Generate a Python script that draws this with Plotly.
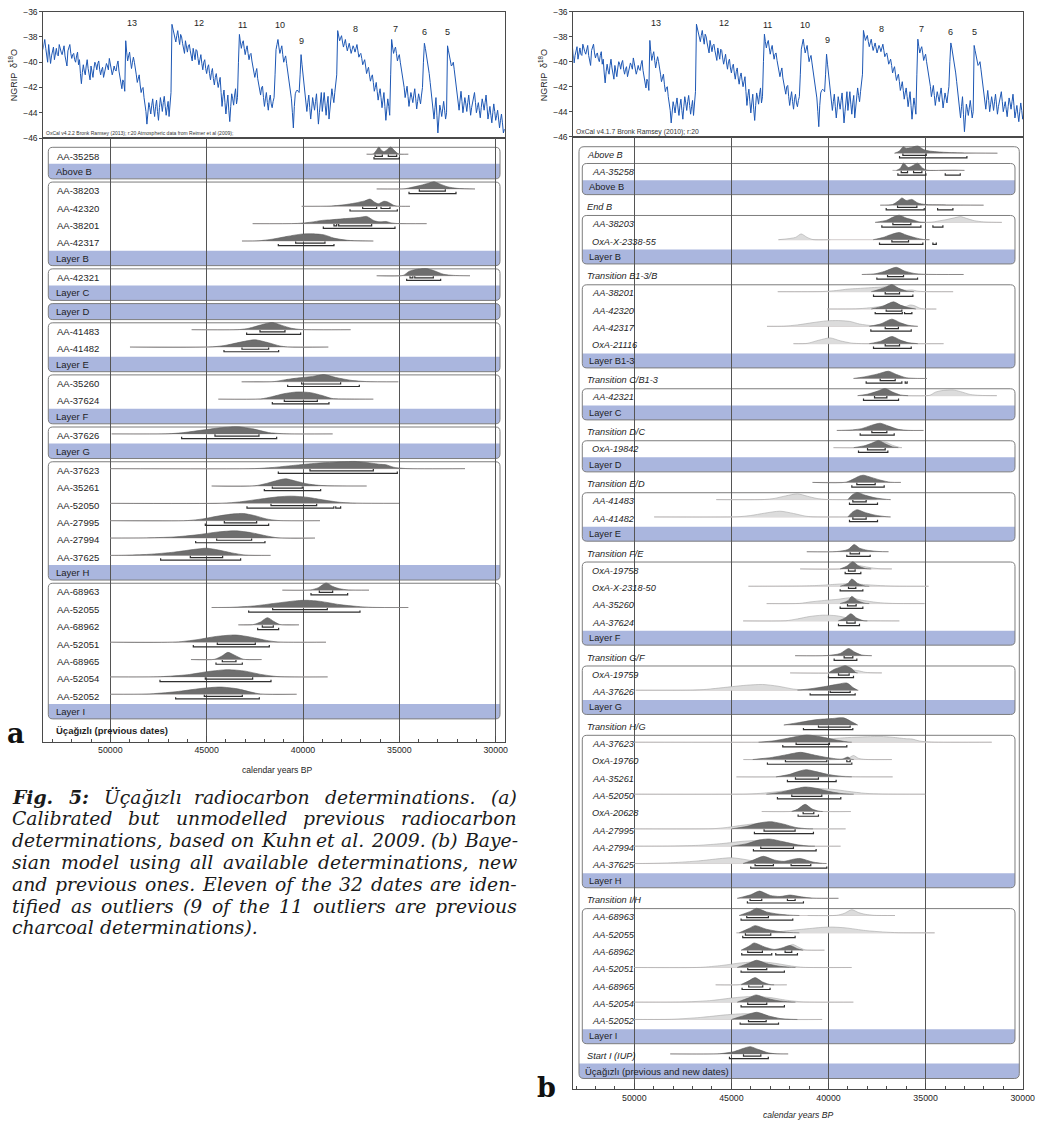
import plotly.graph_objects as go

W, H = 1040, 1121

# ---------------------------------------------------------------- data
# NGRIP delta-18O (per mil) at 100-year steps from 53.5 to 29.6 ka BP ...
ngrip_years = list(range(53500, 29500, -100))
ngrip_d18o = [
    -39.0, -38.2, -39.6, -38.6, -40.1, -39.2, -39.8, -38.9, -39.5, -39.0,
    -39.4, -38.7, -39.9, -39.1, -38.6, -39.7, -39.3, -40.0, -39.2, -39.8,
    -41.7, -40.2, -41.0, -39.8, -40.9, -40.3, -41.2, -40.0, -40.6, -39.9,
    -41.0, -40.4, -40.8, -40.1, -40.6, -40.2, -41.0, -40.3, -40.7, -39.9,
    -41.3, -42.1, -41.6, -38.3, -39.9, -39.2, -40.5, -39.6, -40.4, -41.6,
    -41.0, -42.4, -42.0, -43.3, -44.9, -43.2, -44.1, -42.9, -44.3, -43.0,
    -44.6, -42.8, -43.9, -42.7, -44.2, -43.1, -43.6, -37.0, -37.6, -38.4,
    -37.5, -38.6, -38.0, -38.9, -38.3, -39.2, -38.6, -39.5, -38.9, -39.8,
    -39.1, -40.2, -39.4, -40.6, -39.8, -40.9, -40.2, -41.4, -40.5, -41.8,
    -40.9, -42.0, -41.2, -43.5, -42.2, -44.1, -42.6, -44.7, -42.5, -43.4,
    -42.1, -42.8, -37.8, -38.9, -38.3, -39.4, -38.7, -39.8, -39.3, -40.3,
    -41.2, -40.5, -41.8, -42.6, -41.9, -43.5, -42.4, -43.8, -42.6, -43.6,
    -42.8, -39.0, -38.2, -39.3, -38.7, -40.0, -39.5, -40.6, -41.8, -42.9,
    -45.2, -42.5, -42.2, -42.4, -39.4, -41.0, -42.3, -43.9, -42.6, -44.5,
    -42.8, -43.8, -42.5, -44.9, -43.0, -43.9, -42.4, -44.2, -42.7, -43.6,
    -42.1, -43.2, -41.8, -37.5, -38.3, -37.9, -38.8, -38.2, -39.1, -38.5,
    -39.3, -38.7, -39.2, -38.6, -39.6, -39.3, -40.2, -39.8, -40.9, -40.4,
    -41.5, -41.0, -42.3, -41.6, -43.0, -42.1, -43.6, -42.4, -44.6, -42.9,
    -44.2, -38.2, -39.3, -38.8, -39.9, -39.4, -40.5, -41.2, -42.8, -41.9,
    -43.5, -42.4, -43.2, -42.1, -43.7, -42.5, -43.3, -42.0, -38.5, -39.4,
    -40.1, -41.6, -43.0, -44.5, -42.8, -45.6, -43.4, -44.3, -43.1, -44.5,
    -38.7, -39.6, -40.3, -40.0, -41.2, -42.5, -43.8, -42.3, -44.0, -42.8,
    -43.9, -42.6, -44.2, -43.1, -42.4, -44.0, -43.2, -44.4, -42.9, -43.8,
    -42.6, -44.5, -43.5, -44.8, -43.3, -44.6, -43.8, -45.2, -44.1, -45.6,
]
# ... and the samples 50 years after each of those
ngrip_d18o_mid = [
    -38.5, -38.9, -40.0, -39.3, -39.5, -38.8, -39.3, -39.4, -38.6, -39.2,
    -39.0, -39.5, -40.3, -38.8, -39.3, -39.4, -39.8, -39.5, -40.2, -40.9,
    -40.8, -40.7, -40.3, -40.5, -41.4, -40.8, -40.5, -40.2, -40.1, -40.6,
    -40.6, -41.2, -40.4, -40.3, -39.7, -40.6, -40.7, -40.6, -40.2, -40.7,
    -41.8, -41.4, -42.3, -39.2, -39.5, -39.9, -40.0, -40.0, -41.0, -41.3,
    -41.8, -42.1, -42.8, -43.9, -44.0, -43.6, -43.4, -43.7, -43.5, -43.9,
    -43.6, -43.3, -43.2, -43.5, -43.6, -44.3, -42.4, -37.4, -38.0, -37.9,
    -38.1, -37.8, -38.5, -39.3, -38.8, -38.7, -39.1, -39.9, -39.4, -39.0,
    -39.7, -39.8, -40.1, -40.0, -40.5, -40.4, -40.9, -40.8, -41.3, -41.2,
    -41.5, -41.6, -42.4, -42.7, -43.2, -43.3, -43.8, -43.5, -42.9, -42.6,
    -43.3, -40.0, -38.4, -38.5, -38.9, -39.0, -39.3, -39.4, -39.9, -40.8,
    -40.8, -41.3, -42.2, -42.0, -42.8, -42.9, -43.2, -43.0, -43.3, -43.1,
    -41.0, -38.6, -38.8, -39.0, -39.4, -39.7, -40.1, -41.2, -42.4, -44.0,
    -43.5, -42.3, -42.3, -41.0, -40.2, -41.6, -43.1, -43.2, -43.6, -43.7,
    -43.3, -43.1, -43.7, -44.0, -42.4, -43.1, -43.4, -43.3, -44.5, -42.8,
    -42.7, -42.4, -41.0, -37.9, -38.1, -38.4, -38.5, -38.7, -38.8, -38.9,
    -39.0, -38.9, -38.9, -39.1, -39.4, -39.7, -40.0, -40.3, -40.6, -41.0,
    -41.2, -41.6, -42.0, -42.3, -42.5, -42.8, -43.0, -43.5, -43.7, -43.5,
    -41.0, -38.8, -39.0, -39.3, -39.6, -40.0, -40.8, -42.0, -42.3, -42.7,
    -42.9, -42.8, -42.6, -42.9, -43.1, -42.9, -42.6, -40.0, -38.9, -39.8,
    -40.9, -42.3, -43.7, -43.6, -44.2, -44.5, -43.8, -43.7, -43.8, -44.0,
    -39.1, -39.9, -40.2, -40.6, -41.8, -43.1, -43.0, -43.1, -43.4, -43.3,
    -43.2, -43.4, -43.6, -42.8, -43.2, -43.6, -43.8, -43.6, -43.3, -43.2,
    -43.5, -44.0, -44.2, -44.0, -43.9, -44.2, -44.5, -44.6, -44.8, -45.3,
]

# Dansgaard-Oeschger interstadial numbers
do_names = ["13", "12", "11", "10", "9", "8", "7", "6", "5"]
do_years = [48870, 45400, 43140, 41200, 40070, 37260, 35200, 33710, 32480]
do_level = [-36.9, -36.9, -37.05, -37.05, -38.3, -37.4, -37.4, -37.6, -37.6]

x_ticks = [50000, 45000, 40000, 35000, 30000]

# Calibrated, unmodelled dates: [year BP, relative probability]
UNMOD = {
    "AA-35258": [[36700, 0], [36350, 0.03], [36200, 0.5], [36060, 1.0], [35950, 0.6], [35800, 0.35],
                 [35650, 0.6], [35450, 1.0], [35250, 0.5], [35050, 0.05], [34534, 0]],
    "AA-38203": [[36177, 0], [34700, 0.03], [34400, 0.2], [33900, 0.5], [33500, 0.8], [33200, 1.0],
                 [32900, 0.7], [32500, 0.3], [32000, 0.08], [31500, 0.02], [31074, 0]],
    "AA-42320": [[40070, 0], [38600, 0.03], [37900, 0.2], [37300, 0.45], [36800, 0.75], [36520, 1.0],
                 [36300, 0.6], [36090, 0.35], [35800, 0.7], [35600, 0.6], [35300, 0.15], [35100, 0.02], [34447, 0]],
    "AA-38201": [[42613, 0], [40300, 0.03], [39600, 0.2], [39000, 0.45], [38500, 0.55], [37800, 0.7],
                 [37100, 0.85], [36700, 1.0], [36300, 0.4], [36000, 0.25], [35700, 0.3], [35400, 0.1],
                 [35100, 0.02], [33582, 0]],
    "AA-42317": [[43167, 0], [42300, 0.03], [41600, 0.25], [40800, 0.65], [40100, 0.95], [39500, 1.0],
                 [38900, 0.85], [38400, 0.4], [37700, 0.1], [37000, 0.02], [36350, 0]],
    "AA-42321": [[36177, 0], [34800, 0.05], [34500, 0.6], [34200, 0.85], [33600, 1.0], [33200, 0.7],
                 [32700, 0.2], [32200, 0.05], [31333, 0]],
    "AA-41483": [[45779, 0], [43300, 0.02], [42800, 0.2], [42200, 0.65], [41600, 1.0], [41100, 0.6],
                 [40600, 0.2], [40100, 0.03], [37527, 0]],
    "AA-41482": [[48979, 0], [44700, 0.03], [44000, 0.25], [43300, 0.65], [42500, 1.0], [41800, 0.6],
                 [41200, 0.15], [40800, 0.02], [38686, 0]],
    "AA-35260": [[43184, 0], [41500, 0.03], [40900, 0.3], [40200, 0.55], [39500, 0.75], [38900, 1.0],
                 [38300, 0.6], [37500, 0.2], [36700, 0.03], [35053, 0]],
    "AA-37624": [[44395, 0], [42200, 0.03], [41600, 0.35], [41000, 0.75], [40300, 1.0], [39600, 0.9],
                 [39000, 0.5], [38500, 0.1], [37500, 0.02], [36350, 0]],
    "AA-37626": [[49931, 0], [47000, 0.02], [46300, 0.15], [45300, 0.5], [44300, 0.85], [43400, 1.0],
                 [42600, 0.7], [41800, 0.2], [41000, 0.02], [38461, 0]],
    "AA-37623": [[50000, 0], [42500, 0.01], [41600, 0.15], [40500, 0.45], [39300, 0.75], [38000, 0.95],
                 [37300, 1.0], [36700, 0.85], [36000, 0.6], [35700, 0.55], [35300, 0.2], [34700, 0.02], [31593, 0]],
    "AA-35261": [[44741, 0], [42500, 0.03], [41900, 0.35], [41300, 0.8], [40900, 1.0], [40400, 0.7],
                 [39800, 0.3], [39200, 0.1], [38600, 0.02], [36696, 0]],
    "AA-52050": [[50000, 0], [44200, 0.02], [43300, 0.2], [42200, 0.6], [41300, 0.9], [40600, 1.0],
                 [39800, 0.85], [39000, 0.5], [38100, 0.15], [37200, 0.03], [35018, 0]],
    "AA-27995": [[50000, 0], [46000, 0.02], [45200, 0.25], [44400, 0.65], [43600, 0.95], [43100, 1.0],
                 [42500, 0.7], [41900, 0.25], [41300, 0.03], [39118, 0]],
    "AA-27994": [[50000, 0], [48300, 0.02], [46700, 0.15], [45500, 0.45], [44400, 0.85], [43500, 1.0],
                 [42700, 0.75], [41900, 0.3], [41300, 0.03], [39378, 0]],
    "AA-37625": [[50000, 0], [49300, 0.02], [48000, 0.15], [46700, 0.45], [45600, 0.85], [45000, 1.0],
                 [44400, 0.75], [43700, 0.35], [43000, 0.05], [41679, 0]],
    "AA-68963": [[41073, 0], [39600, 0.03], [39200, 0.35], [38800, 1.0], [38450, 0.5], [38100, 0.2],
                 [37650, 0.03], [36575, 0]],
    "AA-52055": [[44741, 0], [43800, 0.02], [42600, 0.2], [41400, 0.6], [40300, 0.95], [39800, 1.0],
                 [39100, 0.85], [38100, 0.4], [37200, 0.15], [36400, 0.02], [34534, 0]],
    "AA-68962": [[43357, 0], [42600, 0.03], [42200, 0.4], [41850, 1.0], [41500, 0.45], [41200, 0.05], [40208, 0]],
    "AA-52051": [[50000, 0], [46600, 0.02], [45500, 0.35], [44500, 0.8], [43500, 1.0], [42700, 0.7],
                 [41900, 0.25], [41300, 0.03], [38807, 0]],
    "AA-68965": [[45813, 0], [44600, 0.03], [44200, 0.5], [43900, 1.0], [43550, 0.6], [43100, 0.05], [42146, 0]],
    "AA-52054": [[50000, 0], [47400, 0.03], [46000, 0.3], [44900, 0.75], [43900, 1.0], [43000, 0.8],
                 [42200, 0.35], [41300, 0.04], [38720, 0]],
    "AA-52052": [[50000, 0], [48100, 0.03], [46600, 0.35], [45300, 0.8], [44300, 1.0], [43400, 0.75],
                 [42700, 0.3], [42200, 0.03], [40329, 0]],
}
UNMOD_R68 = {
    "AA-35258": [[36264, 35883], [35572, 35139]], "AA-38203": [[33963, 32614]],
    "AA-42320": [[36904, 36177], [35952, 35485]], "AA-38201": [[38392, 38250], [38150, 36437]],
    "AA-42317": [[40381, 38859]], "AA-42321": [[34447, 34300], [34200, 33236]],
    "AA-41483": [[42232, 40935]], "AA-41482": [[43167, 41782]], "AA-35260": [[40070, 38046]],
    "AA-37624": [[40969, 39256]], "AA-37626": [[44568, 42284]], "AA-37623": [[39637, 36350]],
    "AA-35261": [[41592, 40035]], "AA-52050": [[41661, 39291]], "AA-27995": [[44083, 42405]],
    "AA-27994": [[44481, 42665]], "AA-37625": [[45848, 44170]], "AA-68963": [[39153, 38461]],
    "AA-52055": [[41575, 38738]], "AA-68962": [[42111, 41540]], "AA-52051": [[44447, 42475]],
    "AA-68965": [[44187, 43478]], "AA-52054": [[45070, 42613]], "AA-52052": [[45121, 43149]],
}
UNMOD_R95 = {
    "AA-35258": [[36316, 35000]], "AA-38203": [[34499, 32060]], "AA-42320": [[37561, 35105]],
    "AA-38201": [[38945, 35226]], "AA-42317": [[41281, 38392]], "AA-42321": [[34620, 32856]],
    "AA-41483": [[42924, 40122]], "AA-41482": [[44101, 41264]], "AA-35260": [[40796, 37077]],
    "AA-37624": [[41592, 38651]], "AA-37626": [[46298, 41367]], "AA-37623": [[41281, 35105]],
    "AA-35261": [[42007, 39084]], "AA-52050": [[42907, 38400], [38300, 38046]],
    "AA-27995": [[45070, 41782]], "AA-27994": [[45571, 41973]], "AA-37625": [[47388, 43236]],
    "AA-68963": [[39585, 37682]], "AA-52055": [[42820, 37042]], "AA-68962": [[42353, 41264]],
    "AA-52051": [[45692, 41748]], "AA-68965": [[44516, 43149]], "AA-52054": [[47422, 41661]],
    "AA-52052": [[46609, 42267]],
}

# Unmodelled likelihoods of the new determinations
PRIOR_NEW = {
    "OxA-X-2338-55": [[42578, 0], [41700, 0.4], [41410, 1.0], [41100, 0.4], [40800, 0.02], [39915, 0]],
    "OxA-21116": [[41805, 0], [41100, 0.05], [40500, 0.6], [39915, 1.0], [39400, 0.5], [38800, 0.1],
                  [38300, 0.01], [34074, 0]],
    "OxA-19842": [[39743, 0], [38400, 0.02], [37700, 0.6], [37100, 1.0], [36700, 0.4], [36300, 0.02], [36222, 0]],
    "OxA-19758": [[41462, 0], [39300, 0.03], [38700, 0.7], [38300, 0.5], [37800, 0.2], [37300, 0.02], [36737, 0]],
    "OxA-X-2318-50": [[44124, 0], [41500, 0.05], [40500, 0.15], [39600, 0.35], [39000, 0.45], [38400, 0.35],
                      [37500, 0.15], [36600, 0.02], [34847, 0]],
    "OxA-19759": [[41977, 0], [39300, 0.03], [38900, 0.5], [38500, 0.4], [38100, 0.1], [37600, 0.01], [37253, 0]],
    "OxA-19760": [[44382, 0], [39500, 0.01], [39000, 0.2], [38713, 0.7], [38450, 0.2], [38100, 0.02], [36737, 0]],
    "OxA-20628": [[43437, 0], [41900, 0.03], [41600, 0.3], [41250, 0.95], [40850, 0.4], [40400, 0.03], [38850, 0]],
}

# Posterior (modelled) distributions
MOD = {
    "Above B": [[36600, 0], [36350, 0.3], [36150, 0.9], [36000, 0.7], [35800, 0.75], [35400, 1.0],
                [35100, 0.5], [34800, 0.3], [34000, 0.12], [33000, 0.04], [31300, 0]],
    "AA-35258": [[36500, 0], [36300, 0.3], [36136, 1.0], [35900, 0.4], [35700, 0.6], [35414, 1.0],
                 [35150, 0.3], [34900, 0.02], [34000, 0.02], [33500, 0.03], [33000, 0]],
    "End B": [[37338, 0], [36700, 0.1], [36400, 0.6], [36222, 1.0], [36000, 0.65], [35706, 0.8],
              [35400, 0.3], [35000, 0.1], [34300, 0.06], [33800, 0.03], [32013, 0]],
    "AA-38203": [[37600, 0], [37000, 0.3], [36700, 0.7], [36359, 1.0], [36000, 0.6], [35600, 0.3],
                 [35300, 0.05], [35000, 0]],
    "OxA-X-2338-55": [[37700, 0], [37200, 0.3], [36800, 0.7], [36359, 1.0], [36000, 0.65], [35500, 0.25],
                      [35100, 0.03], [34800, 0]],
    "Transition B1-3/B": [[38283, 0], [37600, 0.1], [37100, 0.45], [36514, 1.0], [36100, 0.5], [35600, 0.15],
                          [35100, 0.03], [33043, 0]],
    "AA-38201": [[37800, 0], [37400, 0.3], [37000, 0.7], [36737, 1.0], [36400, 0.5], [36000, 0.1], [35600, 0]],
    "AA-42320": [[37800, 0], [37200, 0.4], [36651, 1.0], [36300, 0.55], [35900, 0.2], [35500, 0]],
    "AA-42317": [[37900, 0], [37300, 0.35], [36737, 1.0], [36300, 0.5], [35900, 0.15], [35400, 0]],
    "OxA-21116": [[37900, 0], [37300, 0.35], [36737, 1.0], [36300, 0.5], [35900, 0.15], [35400, 0]],
    "Transition C/B1-3": [[38713, 0], [38200, 0.2], [37500, 0.6], [36909, 1.0], [36500, 0.55], [36000, 0.1],
                          [35500, 0.01], [34933, 0]],
    "AA-42321": [[38500, 0], [38000, 0.2], [37500, 0.6], [37080, 1.0], [36700, 0.5], [36300, 0.1], [35900, 0]],
    "Transition D/C": [[39572, 0], [38900, 0.05], [38300, 0.25], [37800, 0.7], [37338, 1.0], [36900, 0.6],
                       [36400, 0.15], [35900, 0.01], [35105, 0]],
    "OxA-19842": [[38700, 0], [38100, 0.3], [37700, 0.7], [37424, 1.0], [37050, 0.5], [36700, 0.1], [36400, 0]],
    "Transition E/D": [[40826, 0], [39100, 0.03], [38700, 0.5], [38400, 0.9], [38197, 1.0], [37800, 0.7],
                       [37300, 0.3], [36800, 0.02], [36273, 0]],
    "AA-41483": [[39000, 0], [38800, 0.6], [38541, 1.0], [38100, 0.6], [37600, 0.25], [37000, 0.03], [36800, 0]],
    "AA-41482": [[39000, 0], [38800, 0.6], [38541, 1.0], [38100, 0.6], [37600, 0.25], [37000, 0.03], [36800, 0]],
    "Transition F/E": [[41118, 0], [39600, 0.02], [39000, 0.3], [38679, 1.0], [38400, 0.5], [38000, 0.2],
                       [37400, 0.03], [36909, 0]],
    "OxA-19758": [[39400, 0], [39050, 0.4], [38747, 1.0], [38450, 0.4], [38100, 0.05], [37800, 0]],
    "OxA-X-2318-50": [[39400, 0], [39000, 0.4], [38799, 1.0], [38500, 0.4], [38100, 0.03], [37900, 0]],
    "AA-35260": [[39400, 0], [39000, 0.4], [38799, 1.0], [38500, 0.4], [38100, 0.03], [37900, 0]],
    "AA-37624": [[39500, 0], [39150, 0.4], [38850, 1.0], [38550, 0.4], [38200, 0.03], [38000, 0]],
    "Transition G/F": [[41719, 0], [40100, 0.02], [39400, 0.3], [38970, 1.0], [38650, 0.5], [38300, 0.1], [37768, 0]],
    "OxA-19759": [[40000, 0], [39700, 0.5], [39400, 0.8], [39142, 1.0], [38800, 0.6], [38600, 0.05], [38500, 0]],
    "AA-37626": [[41600, 0], [40800, 0.25], [40100, 0.55], [39500, 0.85], [39056, 1.0], [38700, 0.3], [38500, 0]],
    "Transition H/G": [[42300, 0], [41500, 0.35], [40600, 0.75], [39800, 0.9], [39228, 1.0], [38700, 0.3], [38500, 0]],
    "AA-37623": [[43600, 0], [42800, 0.2], [41900, 0.65], [41118, 1.0], [40400, 0.75], [39600, 0.3],
                 [39000, 0.03], [38800, 0]],
    "OxA-19760": [[43900, 0], [42900, 0.3], [42100, 0.7], [41427, 1.0], [40700, 0.6], [40000, 0.25],
                  [39300, 0.05], [39000, 0.35], [38850, 0.05], [38700, 0]],
    "AA-35261": [[42700, 0], [42000, 0.35], [41500, 0.8], [41153, 1.0], [40600, 0.7], [40000, 0.3],
                 [39300, 0.05], [38800, 0]],
    "AA-52050": [[43200, 0], [42500, 0.25], [41800, 0.7], [41204, 1.0], [40600, 0.8], [40000, 0.4],
                 [39300, 0.08], [38700, 0]],
    "OxA-20628": [[41900, 0], [41600, 0.3], [41204, 1.0], [40850, 0.35], [40500, 0.03], [40300, 0]],
    "AA-27995": [[45000, 0], [44200, 0.35], [43600, 0.8], [42973, 1.0], [42300, 0.65], [41700, 0.2],
                 [41100, 0.02], [40800, 0]],
    "AA-27994": [[45000, 0], [44200, 0.35], [43600, 0.85], [43042, 1.0], [42300, 0.6], [41600, 0.2],
                 [41000, 0.02], [40700, 0]],
    "AA-37625": [[44400, 0], [43900, 0.45], [43351, 1.0], [42800, 0.5], [42300, 0.3], [41800, 0.6],
                 [41461, 0.7], [40800, 0.2], [40300, 0.02], [40100, 0]],
    "Transition I/H": [[44700, 0], [44000, 0.5], [43557, 1.0], [43000, 0.4], [42500, 0.25], [41977, 0.45],
                       [41400, 0.2], [40800, 0.02], [39486, 0]],
    "AA-68963": [[44600, 0], [44000, 0.6], [43695, 1.0], [43200, 0.5], [42600, 0.2], [42000, 0.05], [41500, 0]],
    "AA-52055": [[44600, 0], [44100, 0.6], [43781, 1.0], [43200, 0.5], [42600, 0.2], [42000, 0.05], [41500, 0]],
    "AA-68962": [[44500, 0], [44100, 0.55], [43832, 1.0], [43300, 0.45], [42800, 0.1], [42400, 0.3],
                 [41977, 0.65], [41600, 0.2], [41300, 0]],
    "AA-52051": [[44700, 0], [44100, 0.6], [43695, 1.0], [43200, 0.55], [42600, 0.2], [42000, 0.04], [41700, 0]],
    "AA-68965": [[44500, 0], [44100, 0.55], [43781, 1.0], [43400, 0.4], [43000, 0.03], [42800, 0]],
    "AA-52054": [[44700, 0], [44100, 0.6], [43730, 1.0], [43200, 0.55], [42600, 0.2], [42000, 0.04], [41700, 0]],
    "AA-52052": [[45000, 0], [44400, 0.5], [43690, 1.0], [43100, 0.5], [42500, 0.12], [41900, 0.02], [41600, 0]],
    "Start I (IUP)": [[48150, 0], [45600, 0.03], [44900, 0.3], [44400, 0.75], [44034, 1.0], [43600, 0.6],
                      [43100, 0.15], [42700, 0.02], [42076, 0]],
}
MOD_R68 = {
    "Above B": [[36170, 34967]], "AA-35258": [[36256, 35930], [35620, 35190]], "End B": [[36445, 35449]],
    "AA-38203": [[36685, 35758]], "OxA-X-2338-55": [[36737, 35878]], "Transition B1-3/B": [[36960, 36136]],
    "AA-38201": [[37080, 36342]], "AA-42320": [[37029, 36222]], "AA-42317": [[37080, 36400]],
    "OxA-21116": [[37080, 36342]], "Transition C/B1-3": [[37338, 36565]], "AA-42321": [[37630, 36995]],
    "Transition D/C": [[37768, 36995]], "OxA-19842": [[37991, 37080]], "Transition E/D": [[38541, 37596]],
    "AA-41483": [[38747, 38060]], "AA-41482": [[38747, 38060]], "Transition F/E": [[38885, 38404]],
    "OxA-19758": [[38971, 38628]], "OxA-X-2318-50": [[38971, 38593]], "AA-35260": [[39022, 38576]],
    "AA-37624": [[39056, 38627]], "Transition G/F": [[39195, 38747]], "OxA-19759": [[39486, 38936]],
    "AA-37626": [[39915, 38885]], "Transition H/G": [[40517, 38885]], "AA-37623": [[41668, 39950]],
    "OxA-19760": [[42217, 40087], [39056, 38885]], "AA-35261": [[41702, 40517]], "AA-52050": [[41891, 40345]],
    "OxA-20628": [[41307, 40757]], "AA-27995": [[43317, 41719]], "AA-27994": [[43488, 41805]],
    "AA-37625": [[43781, 42836], [41926, 40912]], "Transition I/H": [[44038, 43437], [42115, 41719]],
    "AA-68963": [[44210, 43093]], "AA-52055": [[44279, 42973]], "AA-68962": [[44159, 43403], [42235, 41891]],
    "AA-52051": [[44159, 43179]], "AA-68965": [[44107, 43386]], "AA-52054": [[44159, 43179]],
    "AA-52052": [[44120, 43209]], "Start I (IUP)": [[44378, 43484]],
}
MOD_R95 = {
    "Above B": [[36342, 32872]], "AA-35258": [[36428, 34985], [33988, 33215]],
    "End B": [[37029, 35070], [34383, 33593]], "AA-38203": [[37253, 35242], [34624, 34109]],
    "OxA-X-2338-55": [[37373, 35139], [34624, 34450]], "Transition B1-3/B": [[37510, 35414]],
    "AA-38201": [[37682, 35655]], "AA-42320": [[37596, 36200], [36084, 35706]], "AA-42317": [[37820, 35740]],
    "OxA-21116": [[37682, 35740]], "Transition C/B1-3": [[38060, 36222], [36050, 35950]],
    "AA-42321": [[38197, 36393]], "Transition D/C": [[38369, 36617]], "OxA-19842": [[38455, 36943]],
    "Transition E/D": [[38799, 37132]], "AA-41483": [[38919, 37476]], "AA-41482": [[38919, 37476]],
    "Transition F/E": [[39056, 37854]], "OxA-19758": [[39142, 38335]], "OxA-X-2318-50": [[39400, 38231]],
    "AA-35260": [[39400, 38231]], "AA-37624": [[39486, 38404]], "Transition G/F": [[39709, 38541]],
    "OxA-19759": [[40001, 38713]], "AA-37626": [[40946, 38627]], "Transition H/G": [[41290, 38747]],
    "AA-37623": [[42355, 39056]], "OxA-19760": [[43145, 38799]], "AA-35261": [[42115, 39606]],
    "AA-52050": [[42630, 39366]], "OxA-20628": [[41565, 40517]], "AA-27995": [[43815, 40775]],
    "AA-27994": [[43866, 40637]], "AA-37625": [[44004, 40087]], "Transition I/H": [[44176, 41290]],
    "AA-68963": [[44502, 41839]], "AA-52055": [[44416, 41719]], "AA-68962": [[44468, 42922], [42716, 41599]],
    "AA-52051": [[44502, 42270]], "AA-68965": [[44450, 43008]], "AA-52054": [[44502, 42270]],
    "AA-52052": [[44550, 42573]], "Start I (IUP)": [[45100, 43100]],
}

# Site layers (panel a: previous dates only)
LAYERS_A = [
    ("Above B", ["AA-35258"]),
    ("Layer B", ["AA-38203", "AA-42320", "AA-38201", "AA-42317"]),
    ("Layer C", ["AA-42321"]),
    ("Layer D", []),
    ("Layer E", ["AA-41483", "AA-41482"]),
    ("Layer F", ["AA-35260", "AA-37624"]),
    ("Layer G", ["AA-37626"]),
    ("Layer H", ["AA-37623", "AA-35261", "AA-52050", "AA-27995", "AA-27994", "AA-37625"]),
    ("Layer I", ["AA-68963", "AA-52055", "AA-68962", "AA-52051", "AA-68965", "AA-52054", "AA-52052"]),
]
# Bayesian sequence (panel b): boundary, phase, dates
SEQ_B = [
    ("Above B", "Above B", ["AA-35258"]),
    ("End B", "Layer B", ["AA-38203", "OxA-X-2338-55"]),
    ("Transition B1-3/B", "Layer B1-3", ["AA-38201", "AA-42320", "AA-42317", "OxA-21116"]),
    ("Transition C/B1-3", "Layer C", ["AA-42321"]),
    ("Transition D/C", "Layer D", ["OxA-19842"]),
    ("Transition E/D", "Layer E", ["AA-41483", "AA-41482"]),
    ("Transition F/E", "Layer F", ["OxA-19758", "OxA-X-2318-50", "AA-35260", "AA-37624"]),
    ("Transition G/F", "Layer G", ["OxA-19759", "AA-37626"]),
    ("Transition H/G", "Layer H", ["AA-37623", "OxA-19760", "AA-35261", "AA-52050", "OxA-20628",
                                   "AA-27995", "AA-27994", "AA-37625"]),
    ("Transition I/H", "Layer I", ["AA-68963", "AA-52055", "AA-68962", "AA-52051", "AA-68965",
                                   "AA-52054", "AA-52052"]),
]
START_B = "Start I (IUP)"

CAPTION = [
    "Fig. 5: Üçağızlı radiocarbon determinations. (a)",
    "Calibrated but unmodelled previous radiocarbon",
    "determinations, based on Kuhn et al. 2009. (b) Baye-",
    "sian model using all available determinations, new",
    "and previous ones. Eleven of the 32 dates are iden-",
    "tified as outliers (9 of the 11 outliers are previous",
    "charcoal determinations).",
]

# ---------------------------------------------------------------- styles
SANS = "Liberation Sans, Arial, sans-serif"
SERIF = "DejaVu Serif, serif"
FRAME = "#4a4a4a"
GRID = "#555555"
BAND = "#aab6de"
BOXLINE = "#7d7d7d"
TXT = "#1e1e1e"
DARK_FILL = "#6e6e6e"
LIGHT_FILL = "#dcdcdc"
FAINT = "#cdc6c6"
PEAK = 7.2

fig = go.Figure()
shapes, annots = [], []

# full-resolution isotope series: interleave the 100-year and the offset samples
ngrip_x, ngrip_y = [], []
for yr, v, vm in zip(ngrip_years, ngrip_d18o, ngrip_d18o_mid):
    ngrip_x += [yr, yr - 50]
    ngrip_y += [v, vm]


def pp(x, y):
    return f"{x / W:.5f},{1 - y / H:.5f}"


def rpath(x0, y0, x1, y1, r, top=True, bottom=True):
    rt = r if top else 0
    rb = r if bottom else 0
    s = f"M {pp(x0 + rt, y0)} L {pp(x1 - rt, y0)} "
    if rt:
        s += f"Q {pp(x1, y0)} {pp(x1, y0 + rt)} "
    s += f"L {pp(x1, y1 - rb)} "
    if rb:
        s += f"Q {pp(x1, y1)} {pp(x1 - rb, y1)} "
    s += f"L {pp(x0 + rb, y1)} "
    if rb:
        s += f"Q {pp(x0, y1)} {pp(x0, y1 - rb)} "
    s += f"L {pp(x0, y0 + rt)} "
    if rt:
        s += f"Q {pp(x0, y0)} {pp(x0 + rt, y0)} "
    return s + "Z"


def box(x0, x1, top, band_top, band_bot, r=4.5):
    shapes.append(dict(type="path", xref="paper", yref="paper", layer="below",
                       path=rpath(x0, band_top, x1, band_bot, r, top=(band_top <= top + 0.01)),
                       fillcolor=BAND, line=dict(width=0)))
    shapes.append(dict(type="path", xref="paper", yref="paper", layer="below",
                       path=rpath(x0, top, x1, band_bot, r), fillcolor="rgba(0,0,0,0)",
                       line=dict(color=BOXLINE, width=1)))


def text(x, y, s, size, family=SANS, color=TXT, anchor="left", angle=0):
    annots.append(dict(xref="paper", yref="paper", x=x / W, y=1 - y / H, text=s, showarrow=False,
                       xanchor=anchor, yanchor="middle", textangle=angle,
                       font=dict(family=family, size=size, color=color)))


class Marks:
    def __init__(self):
        self.fx, self.fy, self.px, self.py = [], [], [], []
        self.lx, self.ly, self.bx, self.by = [], [], [], []

    def curve(self, pts, base, scale, light=False):
        xs = [p[0] for p in pts]
        ys = [base - p[1] * scale for p in pts]
        if light:
            self.px += xs + [None]
            self.py += ys + [None]
        else:
            self.fx += xs + [None]
            self.fy += ys + [None]

    def faint(self, x0, x1, base):
        self.lx += [x0, x1, None]
        self.ly += [base, base, None]

    def brackets(self, intervals, y):
        for a, b in intervals:
            self.bx += [a, a, b, b, None]
            self.by += [y - 1.8, y, y, y - 1.8, None]

    def emit(self, xa, ya):
        fig.add_trace(go.Scatter(x=self.lx, y=self.ly, xaxis=xa, yaxis=ya, mode="lines",
                                 line=dict(color=FAINT, width=0.9), hoverinfo="skip"))
        if self.px:
            fig.add_trace(go.Scatter(x=self.px, y=self.py, xaxis=xa, yaxis=ya, mode="lines",
                                     fill="toself", fillcolor=LIGHT_FILL,
                                     line=dict(color="#a9a9a9", width=0.6, shape="spline", smoothing=0.7),
                                     hoverinfo="skip"))
        fig.add_trace(go.Scatter(x=self.fx, y=self.fy, xaxis=xa, yaxis=ya, mode="lines",
                                 fill="toself", fillcolor=DARK_FILL,
                                 line=dict(color="#5a5a5a", width=0.6, shape="spline", smoothing=0.7),
                                 hoverinfo="skip"))
        fig.add_trace(go.Scatter(x=self.bx, y=self.by, xaxis=xa, yaxis=ya, mode="lines",
                                 line=dict(color="#2f2f2f", width=1.2), hoverinfo="skip"))


PANEL = {
    "a": dict(x0=43.3, x1=505.0, top=11.7, mid=138.0, bot=741.7, xr=[53477, 29517],
              ax=("x", "y", "x2", "y2"), credit="OxCal v4.2.2 Bronk Ramsey (2013); r:20 Atmospheric data "
              "from Reimer et al (2009);", credit_size=5, title_style="", title_dy=28.5),
    "b": dict(x0=573.3, x1=1023.3, top=11.7, mid=136.7, bot=1089.0, xr=[53141, 29969],
              ax=("x3", "y3", "x4", "y4"), credit="OxCal v4.1.7 Bronk Ramsey (2010); r:20",
              credit_size=6.8, title_style="i", title_dy=25.5),
}


def lname(a):
    return ("xaxis" if a[0] == "x" else "yaxis") + a[1:]


layout_axes = {}
for key, p in PANEL.items():
    xn, yn, xo, yo = p["ax"]
    dom_x = [p["x0"] / W, p["x1"] / W]
    layout_axes[lname(xn)] = dict(domain=dom_x, range=p["xr"], anchor=yn, showticklabels=False,
                                  ticks="", showgrid=False, zeroline=False, showline=True, mirror=True,
                                  linecolor=FRAME, linewidth=1, automargin=False)
    layout_axes[lname(yn)] = dict(domain=[1 - p["mid"] / H, 1 - p["top"] / H], range=[-46, -36], anchor=xn,
                                  tickmode="array", tickvals=[-36, -38, -40, -42, -44, -46],
                                  ticks="outside", ticklen=3, tickcolor=FRAME,
                                  tickfont=dict(family=SANS, size=8.5, color=TXT),
                                  showgrid=False, zeroline=False, showline=True, mirror=True,
                                  linecolor=FRAME, linewidth=1, automargin=False)
    layout_axes[lname(xo)] = dict(domain=dom_x, range=p["xr"], anchor=yo, tickmode="array",
                                  tickvals=x_ticks, ticktext=[str(v) for v in x_ticks],
                                  ticks="inside", ticklen=6, tickcolor=FRAME,
                                  tickfont=dict(family=SANS, size=8.8, color=TXT),
                                  showgrid=True, gridcolor=GRID, gridwidth=1, zeroline=False,
                                  showline=True, mirror=True, linecolor=FRAME, linewidth=1,
                                  automargin=False,
                                  minor=dict(tickmode="linear", tick0=30000, dtick=1000, ticks="inside",
                                             ticklen=3, tickcolor=FRAME, showgrid=False))
    layout_axes[lname(yo)] = dict(domain=[1 - p["bot"] / H, 1 - p["mid"] / H], range=[p["bot"], p["mid"]],
                                  anchor=xo, showticklabels=False, ticks="", showgrid=False,
                                  zeroline=False, showline=True, mirror=True, linecolor=FRAME, linewidth=1,
                                  automargin=False)

    # NGRIP isotope curve
    fig.add_trace(go.Scatter(x=ngrip_x, y=ngrip_y, xaxis=xn, yaxis=yn, mode="lines",
                             line=dict(color="#1d57b4", width=1), hoverinfo="skip"))
    for n, yr, lv in zip(do_names, do_years, do_level):
        annots.append(dict(xref=xn, yref=yn, x=yr, y=lv, text=n, showarrow=False,
                           font=dict(family=SANS, size=9, color=TXT)))
    text(p["x0"] + 1, p["mid"] - 4.5, p["credit"], p["credit_size"], color="#333")
    text(p["x0"] - 30, 75, "NGRIP  δ<sup>18</sup>O", 9, angle=-90, anchor="center")
    title = "calendar years BP"
    if p["title_style"]:
        title = f"<i>{title}</i>"
    text((p["x0"] + p["x1"]) / 2 + (3 if key == "a" else 0), p["bot"] + p["title_dy"], title, 8.6,
         anchor="center")

# ---------------------------------------------------------------- panel a
ma = Marks()
y = 147.3
for layer, dates in LAYERS_A:
    top = y
    for j, d in enumerate(dates):
        yr = top + 8.7 + 17.35 * j
        pts = UNMOD[d]
        base = yr - 1.8
        ma.faint(pts[0][0], pts[-1][0], base)
        ma.curve(pts, base, PEAK)
        ma.brackets(UNMOD_R68[d], yr + 0.4)
        ma.brackets(UNMOD_R95[d], yr + 2.9)
        text(55, yr, d, 9.5)
    if dates:
        band_top = top + 17.35 * len(dates) - 0.8
        band_bot = band_top + 15
    else:
        band_top, band_bot = top, top + 16
    box(48.3, 500, top, band_top, band_bot)
    text(54, (band_top + band_bot) / 2, layer, 9.5)
    y = band_bot + 3.2
ma.emit("x2", "y2")
text(53.5, 730.7, "<b>Üçağızlı (previous dates)</b>", 9.5)

# ---------------------------------------------------------------- panel b
mb = Marks()
LX_B, RX_B = 582.3, 1015.0


def draw_b(name, yr, is_date):
    base = yr - 1.8
    prior = None
    if is_date:
        prior = UNMOD.get(name) or PRIOR_NEW.get(name)
    post = MOD[name]
    xs = [p[0] for p in post] + ([p[0] for p in prior] if prior else [])
    mb.faint(max(xs), min(xs), base)
    if prior:
        mb.curve(prior, base, PEAK * 0.8, light=True)
    mb.curve(post, base, PEAK)
    mb.brackets(MOD_R68[name], yr + 0.4)
    mb.brackets(MOD_R95[name], yr + 2.9)


outer_top = 146.7
prev_bottom = None
for i, (bnd, layer, dates) in enumerate(SEQ_B):
    yb = outer_top + 8.3 if i == 0 else prev_bottom + 12.35
    draw_b(bnd, yb, False)
    text(585, yb, f"<i>{bnd}</i>", 9.2)
    top = yb + 8.5
    for j, d in enumerate(dates):
        yr = top + 8.7 + 17.33 * j
        draw_b(d, yr, True)
        text(590, yr, f"<i>{d}</i>", 9.2)
    band_top = top + 17.33 * len(dates) - 0.7
    band_bot = band_top + 14.5
    box(LX_B, RX_B, top, band_top, band_bot)
    text(586.5, (band_top + band_bot) / 2, layer, 9.3)
    prev_bottom = band_bot

ys = prev_bottom + 12.0
draw_b(START_B, ys, False)
text(585, ys, f"<i>{START_B}</i>", 9.2)
site_top = ys + 7.8
site_bot = site_top + 15
shapes.append(dict(type="path", xref="paper", yref="paper", layer="below",
                   path=rpath(579.0, site_top, 1019.3, site_bot, 5, top=False),
                   fillcolor=BAND, line=dict(width=0)))
shapes.append(dict(type="path", xref="paper", yref="paper", layer="below",
                   path=rpath(579.0, outer_top, 1019.3, site_bot, 5), fillcolor="rgba(0,0,0,0)",
                   line=dict(color=BOXLINE, width=1)))
text(583, (site_top + site_bot) / 2, "Üçağızlı (previous and new dates)", 9.5)
mb.emit("x4", "y4")

# panel letters
text(16, 733, "<b>a</b>", 27, family=SERIF, color="#111", anchor="center")
text(546, 1087, "<b>b</b>", 27, family=SERIF, color="#111", anchor="center")

# ---------------------------------------------------------------- caption (justified)
EM = {
    "a": .60, "b": .64, "c": .56, "d": .64, "e": .59, "f": .37, "g": .64, "h": .64, "i": .32, "j": .32,
    "k": .61, "l": .32, "m": .96, "n": .64, "o": .60, "p": .64, "q": .64, "r": .48, "s": .51, "t": .40,
    "u": .64, "v": .57, "w": .83, "x": .57, "y": .57, "z": .52, "ı": .32, "ç": .56, "ğ": .64,
    ".": .32, ",": .32, ":": .34, "(": .39, ")": .39, "-": .34, " ": .32,
}


def em_width(s):
    w = 0
    for c in s:
        if c.isdigit():
            w += .64
        elif c.isupper():
            w += .72
        else:
            w += EM.get(c, .6)
    return w


CAP_SIZE = 18.8
CAP_LEFT, CAP_RIGHT = 10, 515
CAP_Y0, CAP_STEP = 797, 21.8
for li, line in enumerate(CAPTION):
    words = line.split(" ")
    bold_n = 2 if li == 0 else 0
    widths = [em_width(w) * CAP_SIZE * (1.1 if k < bold_n else 1.0) for k, w in enumerate(words)]
    justify = li < len(CAPTION) - 1
    if justify:
        gap = (CAP_RIGHT - CAP_LEFT - sum(widths)) / (len(words) - 1)
    else:
        gap = EM[" "] * CAP_SIZE
    yy = CAP_Y0 + li * CAP_STEP
    x = CAP_LEFT
    for k, w in enumerate(words):
        s = f"<b><i>{w}</i></b>" if k < bold_n else f"<i>{w}</i>"
        text(x, yy, s, CAP_SIZE, family=SERIF, color="#1a1a1a", anchor="left")
        x += widths[k] + gap

fig.update_layout(width=W, height=H, margin=dict(l=0, r=0, t=0, b=0), paper_bgcolor="white",
                  plot_bgcolor="rgba(0,0,0,0)", showlegend=False, shapes=shapes, annotations=annots,
                  **layout_axes)
fig.write_html("out.html")
